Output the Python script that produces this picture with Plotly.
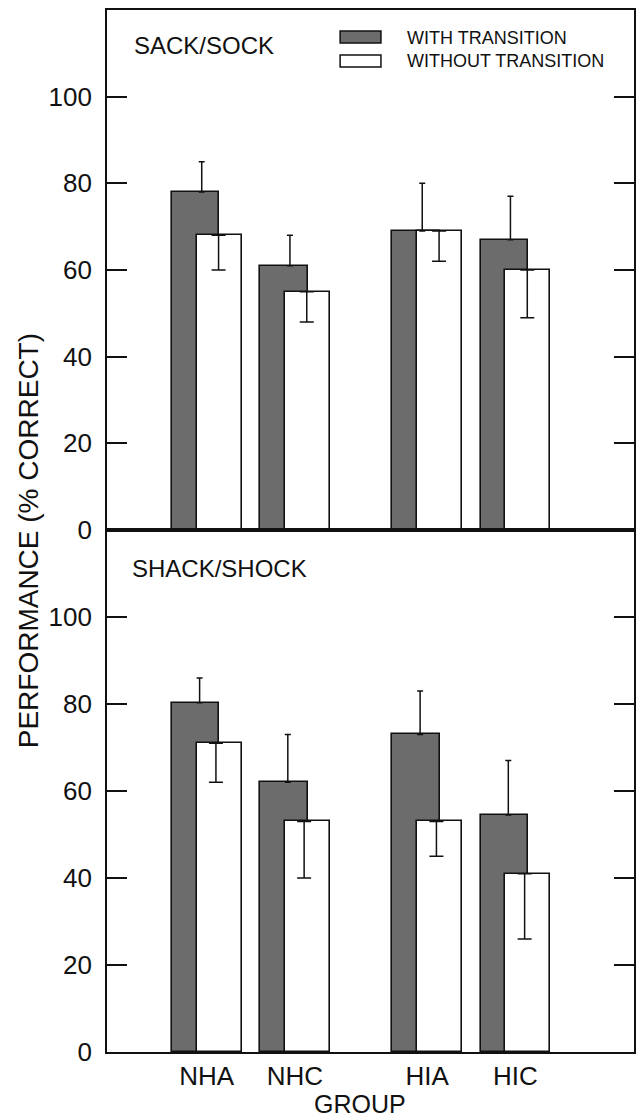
import plotly.graph_objects as go

# ---- data ----
groups = ["NHA", "NHC", "HIA", "HIC"]
group_pos = [1, 2, 3.5, 4.5]

sack_with = [78, 61, 69, 67]
sack_with_err_top = [85, 68, 80, 77]
sack_without = [68, 55, 69, 60]
sack_without_err_bottom = [60, 48, 62, 49]

shack_with = [80.3, 62, 73, 54.5]
shack_with_err_top = [86, 73, 83, 67]
shack_without = [71, 53, 53, 41]
shack_without_err_bottom = [62, 40, 45, 26]

y_ticks = [0, 20, 40, 60, 80, 100]

# ---- style ----
DARK = "rgb(108,108,108)"
INK = "#111111"
FONT = "Liberation Sans, Arial, sans-serif"

W_DARK, OFF_DARK = 0.54, -0.395
W_WHITE, OFF_WHITE = 0.51, -0.115

fig = go.Figure()

panels = [
    ("x", "y", sack_with, sack_with_err_top, sack_without, sack_without_err_bottom, -0.056, 0.135),
    ("x2", "y2", shack_with, shack_with_err_top, shack_without, shack_without_err_bottom, -0.08, 0.105),
]

for xa, ya, w_vals, w_top, wo_vals, wo_bot, d_off, w_off in panels:
    fig.add_trace(go.Bar(
        x=group_pos, y=w_vals, width=W_DARK, offset=OFF_DARK,
        marker=dict(color=DARK, line=dict(color=INK, width=1.6)),
        xaxis=xa, yaxis=ya, showlegend=False, name="WITH TRANSITION"))
    fig.add_trace(go.Bar(
        x=group_pos, y=wo_vals, width=W_WHITE, offset=OFF_WHITE,
        marker=dict(color="white", line=dict(color=INK, width=1.6)),
        xaxis=xa, yaxis=ya, showlegend=False, name="WITHOUT TRANSITION"))
    fig.add_trace(go.Scatter(
        x=[p + d_off for p in group_pos], y=w_vals, mode="markers",
        marker=dict(size=1, opacity=0),
        error_y=dict(type="data", symmetric=False,
                     array=[t - v for t, v in zip(w_top, w_vals)],
                     arrayminus=[0] * len(w_vals),
                     width=3, thickness=1.5, color=INK),
        xaxis=xa, yaxis=ya, showlegend=False, hoverinfo="skip"))
    fig.add_trace(go.Scatter(
        x=[p + w_off for p in group_pos], y=wo_vals, mode="markers",
        marker=dict(size=1, opacity=0),
        error_y=dict(type="data", symmetric=False,
                     array=[0] * len(wo_vals),
                     arrayminus=[v - b for v, b in zip(wo_vals, wo_bot)],
                     width=7, thickness=1.5, color=INK),
        xaxis=xa, yaxis=ya, showlegend=False, hoverinfo="skip"))

split = (1052 - 530) / 1042

yax = dict(range=[0, 120], tickvals=y_ticks, ticks="inside", ticklen=20,
           tickwidth=1.5, tickcolor=INK, showline=True, linewidth=1.8,
           linecolor=INK, mirror="ticks", showgrid=False, zeroline=False,
           tickfont=dict(family=FONT, size=26, color=INK),
           ticklabelstandoff=8)
xax = dict(range=[-0.13, 5.845], showline=True, linewidth=1.5, linecolor=INK,
           mirror=True, showgrid=False, zeroline=False, ticks="",
           tickvals=group_pos, ticktext=groups)

fig.update_layout(
    width=637, height=1120,
    margin=dict(l=107, r=1, t=10, b=68),
    paper_bgcolor="white", plot_bgcolor="white",
    barmode="overlay", bargap=0,
    font=dict(family=FONT, color=INK),
    xaxis=dict(xax, anchor="y", showticklabels=False),
    yaxis=dict(yax, domain=[split, 1], anchor="x"),
    xaxis2=dict(xax, anchor="y2", matches="x", showticklabels=True,
                tickfont=dict(family=FONT, size=26, color=INK),
                ticklabelstandoff=0),
    yaxis2=dict(yax, domain=[0, split], anchor="x2"),
)

def px_x(p):
    return (p - 107) / 529

def px_y(p):
    return (1052 - p) / 1042

annotations = [
    dict(text="SACK/SOCK", x=px_x(132), y=px_y(45), xanchor="left", yanchor="middle",
         font=dict(size=24)),
    dict(text="SHACK/SHOCK", x=px_x(130), y=px_y(568), xanchor="left", yanchor="middle",
         font=dict(size=24)),
    dict(text="WITH TRANSITION", x=px_x(406), y=px_y(38), xanchor="left", yanchor="middle",
         font=dict(size=18)),
    dict(text="WITHOUT TRANSITION", x=px_x(406), y=px_y(61), xanchor="left", yanchor="middle",
         font=dict(size=18)),
    dict(text="PERFORMANCE (% CORRECT)", x=px_x(28), y=px_y(541), textangle=-90,
         xanchor="center", yanchor="middle", font=dict(size=28)),
    dict(text="GROUP", x=px_x(361), y=px_y(1120), xanchor="center", yanchor="bottom",
         font=dict(size=25)),
]
for a in annotations:
    a.update(xref="paper", yref="paper", showarrow=False)
    a["font"].update(family=FONT, color=INK)
fig.update_layout(annotations=annotations)

fig.add_shape(type="rect", xref="paper", yref="paper",
              x0=px_x(341), x1=px_x(382), y0=px_y(43), y1=px_y(31),
              fillcolor=DARK, line=dict(color=INK, width=1.5))
fig.add_shape(type="rect", xref="paper", yref="paper",
              x0=px_x(341), x1=px_x(382), y0=px_y(67), y1=px_y(55),
              fillcolor="white", line=dict(color=INK, width=1.5))

fig.write_html("out.html")
